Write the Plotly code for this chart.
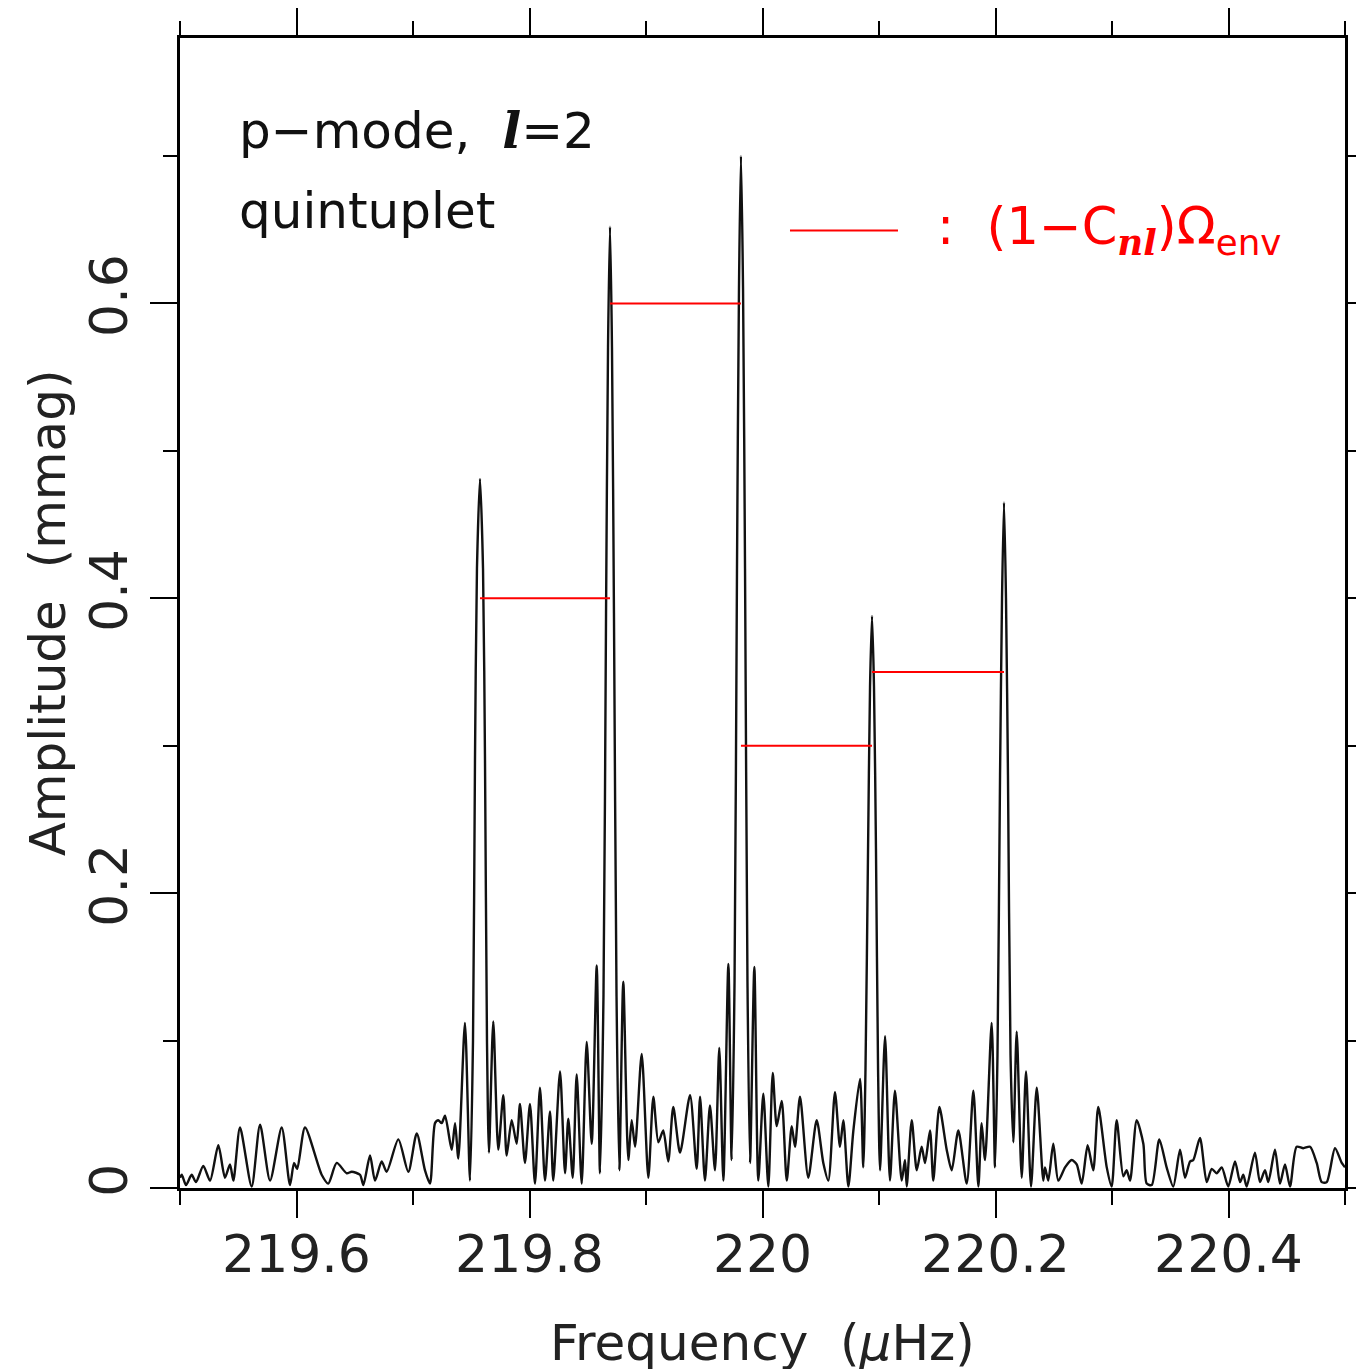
import plotly.graph_objects as go

# ---- data ----
freq = [
    219.5000, 219.5015, 219.5052, 219.5100, 219.5137, 219.5200, 219.5258, 219.5329, 219.5386, 219.5429,
    219.5458, 219.5515, 219.5615, 219.5687, 219.5773, 219.5873, 219.5944, 219.5979, 219.6006, 219.6073,
    219.6216, 219.6273, 219.6345, 219.6431, 219.6474, 219.6545, 219.6574, 219.6631, 219.6674, 219.6731,
    219.6774, 219.6874, 219.6960, 219.7032, 219.7103, 219.7146, 219.7189, 219.7217, 219.7246, 219.7275,
    219.7332, 219.7361, 219.7389, 219.7446, 219.7489, 219.7515, 219.7532, 219.7549, 219.7575, 219.7601,
    219.7618, 219.7635, 219.7652, 219.7689, 219.7732, 219.7775, 219.7804, 219.7847, 219.7890, 219.7918,
    219.7961, 219.8004, 219.8047, 219.8090, 219.8133, 219.8176, 219.8204, 219.8262, 219.8305, 219.8333,
    219.8371, 219.8405, 219.8448, 219.8491, 219.8534, 219.8577, 219.8605, 219.8635, 219.8657, 219.8674,
    219.8691, 219.8708, 219.8725, 219.8747, 219.8771, 219.8805, 219.8848, 219.8877, 219.8906, 219.8963,
    219.9020, 219.9063, 219.9106, 219.9148, 219.9191, 219.9234, 219.9292, 219.9378, 219.9435, 219.9464,
    219.9506, 219.9549, 219.9592, 219.9629, 219.9664, 219.9707, 219.9735, 219.9760, 219.9781, 219.9798,
    219.9815, 219.9833, 219.9850, 219.9871, 219.9893, 219.9930, 219.9964, 220.0007, 220.0050, 220.0088,
    220.0122, 220.0165, 220.0208, 220.0251, 220.0279, 220.0322, 220.0393, 220.0465, 220.0522, 220.0565,
    220.0622, 220.0665, 220.0694, 220.0737, 220.0780, 220.0837, 220.0865, 220.0884, 220.0906, 220.0923,
    220.0940, 220.0957, 220.0974, 220.0992, 220.1009, 220.1052, 220.1094, 220.1137, 220.1195, 220.1223,
    220.1238, 220.1281, 220.1324, 220.1366, 220.1395, 220.1438, 220.1466, 220.1518, 220.1581, 220.1624,
    220.1681, 220.1753, 220.1810, 220.1853, 220.1881, 220.1910, 220.1967, 220.1996, 220.2017, 220.2039,
    220.2056, 220.2073, 220.2090, 220.2107, 220.2129, 220.2153, 220.2182, 220.2225, 220.2262, 220.2305,
    220.2354, 220.2410, 220.2425, 220.2453, 220.2496, 220.2539, 220.2597, 220.2654, 220.2697, 220.2740,
    220.2791, 220.2839, 220.2882, 220.2955, 220.2997, 220.3040, 220.3097, 220.3126, 220.3155, 220.3212,
    220.3269, 220.3298, 220.3341, 220.3406, 220.3469, 220.3526, 220.3584, 220.3627, 220.3670, 220.3698,
    220.3755, 220.3813, 220.3856, 220.3899, 220.3942, 220.3998, 220.4056, 220.4099, 220.4127, 220.4156,
    220.4227, 220.4270, 220.4313, 220.4342, 220.4399, 220.4442, 220.4485, 220.4528, 220.4585, 220.4642,
    220.4700, 220.4757, 220.4800, 220.4843, 220.4914, 220.4972, 220.5000,
]
amplitude = [
    0.007, 0.009, 0.002, 0.009, 0.004, 0.015, 0.005, 0.029, 0.007, 0.016,
    0.005, 0.041, 0.001, 0.043, 0.005, 0.041, 0.002, 0.017, 0.013, 0.041,
    0.009, 0.003, 0.017, 0.010, 0.011, 0.009, 0.002, 0.022, 0.005, 0.018,
    0.011, 0.033, 0.011, 0.037, 0.012, 0.003, 0.044, 0.046, 0.044, 0.049,
    0.026, 0.044, 0.020, 0.112, 0.005, 0.100, 0.290, 0.420, 0.481, 0.420,
    0.290, 0.100, 0.024, 0.113, 0.026, 0.063, 0.022, 0.046, 0.030, 0.057,
    0.017, 0.057, 0.003, 0.068, 0.005, 0.052, 0.005, 0.079, 0.010, 0.047,
    0.007, 0.077, 0.003, 0.099, 0.030, 0.151, 0.010, 0.130, 0.390, 0.570,
    0.652, 0.570, 0.390, 0.130, 0.012, 0.140, 0.019, 0.046, 0.028, 0.091,
    0.007, 0.062, 0.031, 0.039, 0.018, 0.055, 0.024, 0.063, 0.013, 0.062,
    0.005, 0.056, 0.012, 0.095, 0.005, 0.152, 0.019, 0.140, 0.420, 0.610,
    0.700, 0.610, 0.420, 0.140, 0.017, 0.150, 0.005, 0.064, 0.001, 0.078,
    0.042, 0.059, 0.005, 0.042, 0.028, 0.062, 0.007, 0.046, 0.017, 0.005,
    0.065, 0.028, 0.046, 0.001, 0.039, 0.074, 0.014, 0.080, 0.230, 0.340,
    0.388, 0.340, 0.230, 0.080, 0.012, 0.103, 0.005, 0.066, 0.005, 0.019,
    0.001, 0.046, 0.012, 0.028, 0.017, 0.039, 0.005, 0.055, 0.026, 0.012,
    0.039, 0.003, 0.066, 0.001, 0.044, 0.019, 0.112, 0.014, 0.090, 0.280,
    0.400, 0.465, 0.400, 0.280, 0.090, 0.031, 0.106, 0.007, 0.079, 0.001,
    0.068, 0.005, 0.014, 0.005, 0.030, 0.005, 0.014, 0.019, 0.016, 0.003,
    0.029, 0.012, 0.055, 0.014, 0.001, 0.046, 0.008, 0.012, 0.005, 0.046,
    0.030, 0.003, 0.002, 0.033, 0.014, 0.001, 0.026, 0.007, 0.018, 0.019,
    0.034, 0.004, 0.013, 0.010, 0.014, 0.001, 0.018, 0.004, 0.009, 0.001,
    0.024, 0.004, 0.012, 0.004, 0.026, 0.003, 0.016, 0.001, 0.028, 0.027,
    0.028, 0.017, 0.004, 0.004, 0.027, 0.017, 0.014,
]

# red splitting segments between adjacent multiplet components
seg_start = [219.7575, 219.8691, 219.9815, 220.0940]
seg_end = [219.8691, 219.9815, 220.0940, 220.2073]
seg_level = [0.40, 0.60, 0.30, 0.35]

legend_x = [220.0236, 220.1163]
legend_y = [0.6495, 0.6495]

x_range = [219.5, 220.5]
y_range = [0.0, 0.78]
x_tickvals = [219.6, 219.8, 220.0, 220.2, 220.4]
x_ticktext = ["219.6", "219.8", "220", "220.2", "220.4"]
y_tickvals = [0.0, 0.2, 0.4, 0.6]
y_ticktext = ["0", "0.2", "0.4", "0.6"]

FONT = "DejaVu Sans"
RED = "#ff0000"

fig = go.Figure()

fig.add_trace(go.Scatter(
    x=freq, y=amplitude, mode="lines",
    line=dict(color="#111111", width=2.4, shape="spline", smoothing=0.7),
    showlegend=False, hoverinfo="skip", cliponaxis=True,
))

for xs, xe, lv in zip(seg_start, seg_end, seg_level):
    fig.add_trace(go.Scatter(
        x=[xs, xe], y=[lv, lv], mode="lines",
        line=dict(color=RED, width=2), showlegend=False, hoverinfo="skip",
    ))

fig.add_trace(go.Scatter(
    x=legend_x, y=legend_y, mode="lines",
    line=dict(color=RED, width=2), showlegend=False, hoverinfo="skip",
))

axis_common = dict(
    showline=True, linecolor="black", linewidth=3, mirror="ticks",
    ticks="outside", ticklen=27, tickwidth=2, tickcolor="black",
    showgrid=False, zeroline=False, automargin=False,
    tickfont=dict(family=FONT, size=52, color="#222222"),
)

fig.update_xaxes(
    range=x_range, tickvals=x_tickvals, ticktext=x_ticktext,
    minor=dict(dtick=0.1, tick0=219.5, ticks="outside", ticklen=14, tickwidth=2, tickcolor="black"),
    ticklabelstandoff=-8,
    **axis_common,
)
fig.update_yaxes(
    range=y_range, tickvals=y_tickvals, ticktext=y_ticktext, tickangle=-90,
    minor=dict(dtick=0.1, tick0=0, ticks="outside", ticklen=14, tickwidth=2, tickcolor="black"),
    ticklabelstandoff=2,
    **axis_common,
)

l_it = "<span style=\"font-family:'DejaVu Serif'\"><b><i>l</i></b></span>"
nl_it = "<span style=\"font-family:'DejaVu Serif'\"><b><i>nl</i></b></span>"

annotations = [
    dict(text="p\u2212mode,  " + l_it + "=2", x=219.5490, y=0.717, xref="x", yref="y",
         xanchor="left", yanchor="middle", showarrow=False,
         font=dict(family=FONT, size=50, color="#111111")),
    dict(text="quintuplet", x=219.5490, y=0.663, xref="x", yref="y",
         xanchor="left", yanchor="middle", showarrow=False,
         font=dict(family=FONT, size=50, color="#111111")),
    dict(text=":&nbsp;&nbsp;(1\u2212C<sub>" + nl_it + "</sub>)\u03a9<sub>env</sub>",
         x=220.1480, y=0.6495, xref="x", yref="y",
         xanchor="left", yanchor="middle", showarrow=False,
         font=dict(family=FONT, size=51, color=RED)),
    dict(text="Amplitude  (mmag)", x=-0.113, y=0.5, xref="paper", yref="paper",
         xanchor="center", yanchor="middle", textangle=-90, showarrow=False,
         font=dict(family=FONT, size=50, color="#222222")),
    dict(text="Frequency  (<i>\u03bc</i>Hz)", x=0.5, y=-0.108, xref="paper", yref="paper",
         xanchor="center", yanchor="top", showarrow=False,
         font=dict(family=FONT, size=50, color="#222222")),
]

fig.update_layout(
    width=1356, height=1369,
    margin=dict(l=180, r=11, t=38, b=181),
    paper_bgcolor="white", plot_bgcolor="white",
    annotations=annotations,
    showlegend=False,
)

fig.write_html("out.html")
